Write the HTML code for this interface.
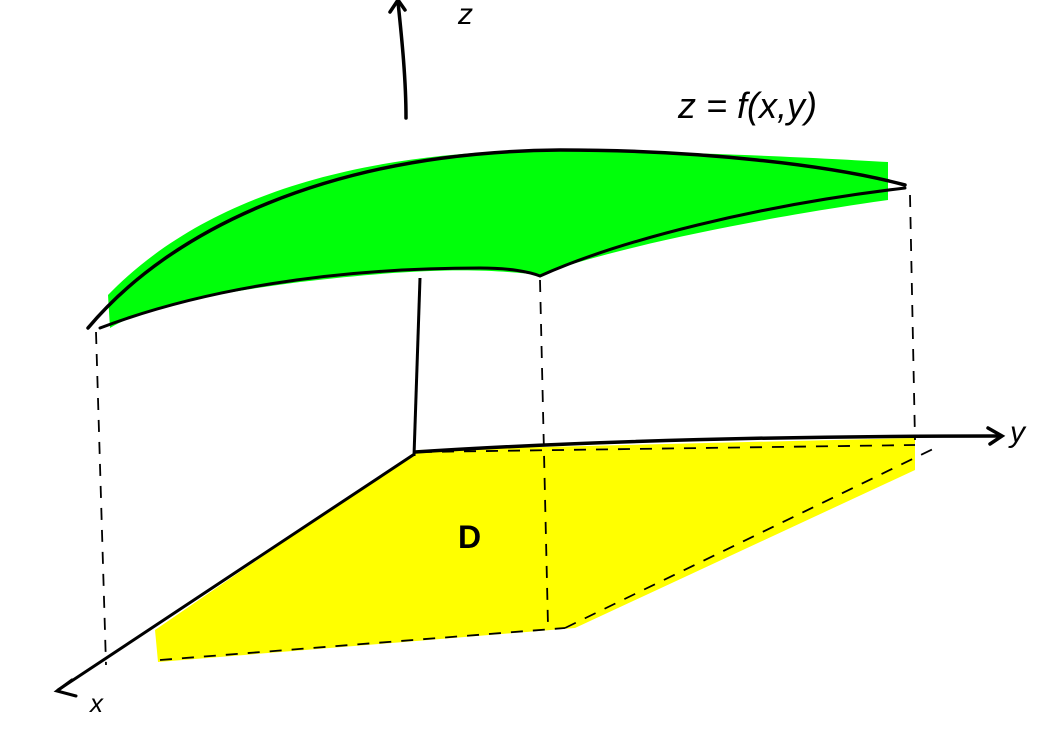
<!DOCTYPE html>
<html><head><meta charset="utf-8"><style>
html,body{margin:0;padding:0;background:#fff;}
svg{display:block;}
text{font-family:"Liberation Sans",sans-serif;}
</style></head><body>
<svg width="1057" height="734" viewBox="0 0 1057 734">
  <!-- yellow region D -->
  <path d="M418,450 L915,438 L915,470 L575,628 L158,662 L155,630 Z" fill="#ffff00"/>
  <!-- green surface -->
  <path d="M108,295 C200,200 350,150 560,150 C700,152 820,158 888,162 L888,200 C780,215 620,245 540,275 C480,268 420,268 300,282 C200,295 140,310 110,328 Z" fill="#00ff0a"/>
  <path d="M88,328 C170,230 330,152 560,150 C700,150 830,165 905,185" fill="none" stroke="#000" stroke-width="3.5" stroke-linecap="round"/>
  <path d="M100,328 C200,290 330,268 480,268 C510,268 530,272 540,276 C620,240 760,205 905,188" fill="none" stroke="#000" stroke-width="3" stroke-linecap="round"/>
  <!-- z axis -->
  <g stroke="#000" stroke-width="3.5" fill="none" stroke-linecap="round">
    <path d="M406,118 C406,80 402,40 398,2"/>
    <path d="M390,12 L398,0 L405,10"/>
  </g>
  <text x="458" y="24" font-size="30" font-style="italic">z</text>
  <text x="678" y="118" font-size="36" font-style="italic">z = f(x,y)</text>
  <!-- vertical line from surface to origin -->
  <path d="M420,278 L414,456" stroke="#000" stroke-width="3" fill="none"/>
  <!-- y axis -->
  <g stroke="#000" stroke-width="3.5" fill="none" stroke-linecap="round">
    <path d="M415,452 C600,440 800,436 1000,436"/>
    <path d="M988,428 L1002,436 L990,444"/>
  </g>
  <text x="1010" y="442" font-size="30" font-style="italic">y</text>
  <!-- x axis -->
  <g stroke="#000" stroke-width="3" fill="none" stroke-linecap="round">
    <path d="M413,455 C300,530 180,610 58,690"/>
    <path d="M72,680 L57,691 L76,696"/>
  </g>
  <text x="90" y="712" font-size="26" font-style="italic">x</text>
  <!-- dashed lines -->
  <g stroke="#000" stroke-width="1.8" fill="none" stroke-dasharray="12,10">
    <path d="M96,332 L106,665"/>
    <path d="M540,280 L548,626"/>
    <path d="M910,195 L915,440"/>
    <path d="M160,660 L565,628"/>
    <path d="M565,628 L935,448"/>
    <path d="M420,452 L915,445"/>
  </g>
  <text x="458" y="548" font-size="32" font-weight="bold">D</text>
</svg>
</body></html>
